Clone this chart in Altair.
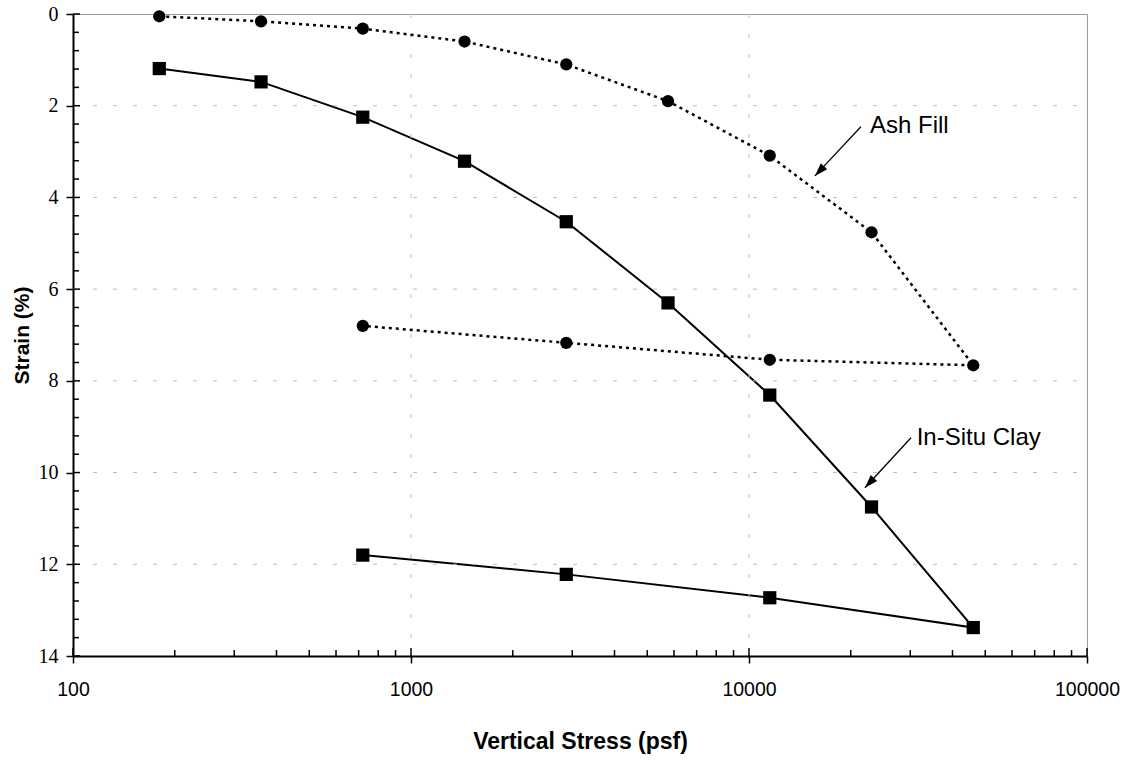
import altair as alt
import pandas as pd

# ---- data ----
stress_load = [180, 360, 720, 1440, 2880, 5760, 11520, 23040, 46080]
stress_unload = [11520, 2880, 720]
ash_load = [0.05, 0.16, 0.32, 0.60, 1.10, 1.90, 3.09, 4.76, 7.66]
ash_unload = [7.54, 7.17, 6.80]
clay_load = [1.19, 1.48, 2.25, 3.21, 4.53, 6.30, 8.31, 10.75, 13.38]
clay_unload = [12.73, 12.22, 11.80]

x_major = [100, 1000, 10000, 100000]
x_minor = [m * d for d in (100, 1000, 10000) for m in range(2, 10)]
y_major = [0, 2, 4, 6, 8, 10, 12, 14]
y_minor = [round(v * 0.4, 1) for v in range(1, 36) if (v * 0.4) % 2 > 0.01 and (v * 0.4) % 2 < 1.99]
grid_x = [1000, 10000]
grid_y = [2, 4, 6, 8, 10, 12]

labels = ["Ash Fill", "In-Situ Clay"]
label_stress = [22800, 31340]
label_strain = [2.45, 9.25]
arrow_from_stress = [21430, 30150]
arrow_from_strain = [2.46, 9.24]
arrow_to_stress = [15670, 22030]
arrow_to_strain = [3.53, 10.33]

W, H = 1014, 642

def series(name, load, unload):
    rows = []
    xs = stress_load + stress_unload
    ys = load + unload
    for i, (s, e) in enumerate(zip(xs, ys)):
        rows.append({"series": name, "order": i, "stress": s, "strain": e})
    return pd.DataFrame(rows)

ash = series("Ash Fill", ash_load, ash_unload)
clay = series("In-Situ Clay", clay_load, clay_unload)

xscale = alt.Scale(type="log", domain=[100, 100000], nice=False)
yscale = alt.Scale(domain=[0, 14], reverse=True, nice=False, zero=False)

xaxis = alt.Axis(
    values=x_major, format="d", title="Vertical Stress (psf)", grid=False,
    domainColor="black", domainWidth=2, tickColor="black", tickWidth=1.5, tickSize=7,
    labelFont="Liberation Sans", labelFontSize=19.5, labelColor="black", labelPadding=17,
    labelFlush=False, labelOverlap=False,
    titleFont="Liberation Sans", titleFontSize=23, titleFontWeight="bold", titleColor="black",
    titleX=W / 2, titleY=85, titleBaseline="middle", titleAlign="center",
)
yaxis = alt.Axis(
    values=y_major, title="Strain (%)", grid=False,
    domainColor="black", domainWidth=2, tickColor="black", tickWidth=1.5, tickSize=7,
    labelFont="Liberation Serif", labelFontSize=20, labelColor="black", labelPadding=8,
    labelOverlap=False, labelFlush=False,
    titleFont="Liberation Sans", titleFontSize=21, titleFontWeight="bold", titleColor="black",
    titleX=-51, titleY=H / 2, titleBaseline="middle", titleAlign="center", titleAngle=270,
)

def X(field="stress"):
    return alt.X(f"{field}:Q", scale=xscale, axis=xaxis)

def Y(field="strain"):
    return alt.Y(f"{field}:Q", scale=yscale, axis=yaxis)

gx = alt.Chart(pd.DataFrame({"stress": grid_x})).mark_rule(
    color="#bdbdbd", strokeWidth=1, strokeDash=[4, 16]
).encode(x=X(), y=alt.value(0), y2=alt.value(H))

gy = alt.Chart(pd.DataFrame({"strain": grid_y})).mark_rule(
    color="#bdbdbd", strokeWidth=1, strokeDash=[4, 16]
).encode(y=Y(), x=alt.value(0), x2=alt.value(W))

# inward tick marks
ty_minor = alt.Chart(pd.DataFrame({"strain": y_minor})).mark_rule(
    color="black", strokeWidth=1.5
).encode(y=Y(), x=alt.value(0), x2=alt.value(6))
ty_major = alt.Chart(pd.DataFrame({"strain": y_major})).mark_rule(
    color="black", strokeWidth=1.5
).encode(y=Y(), x=alt.value(0), x2=alt.value(7))
tx_minor = alt.Chart(pd.DataFrame({"stress": x_minor})).mark_rule(
    color="black", strokeWidth=1.5
).encode(x=X(), y=alt.value(H), y2=alt.value(H - 6))
tx_major = alt.Chart(pd.DataFrame({"stress": x_major})).mark_rule(
    color="black", strokeWidth=1.5
).encode(x=X(), y=alt.value(H), y2=alt.value(H - 8))

clay_line = alt.Chart(clay).mark_line(color="black", strokeWidth=2).encode(
    x=X(), y=Y(), order="order:Q"
)
clay_pts = alt.Chart(clay).mark_point(
    shape="square", filled=True, color="black", size=175, opacity=1
).encode(x=X(), y=Y())

ash_line = alt.Chart(ash).mark_line(
    color="black", strokeWidth=2.5, strokeDash=[3, 4]
).encode(x=X(), y=Y(), order="order:Q")
ash_pts = alt.Chart(ash).mark_point(
    shape="circle", filled=True, color="black", size=150, opacity=1
).encode(x=X(), y=Y())

ann = pd.DataFrame({
    "label": labels, "stress": label_stress, "strain": label_strain,
    "fx": arrow_from_stress, "fy": arrow_from_strain,
    "tx": arrow_to_stress, "ty": arrow_to_strain,
})
ann_text = alt.Chart(ann).mark_text(
    align="left", baseline="middle", font="Liberation Sans", fontSize=24, color="black"
).encode(x=X(), y=Y(), text="label:N")
ann_line = alt.Chart(ann).mark_rule(color="black", strokeWidth=1.3).encode(
    x=X("fx"), y=Y("fy"), x2="tx:Q", y2="ty:Q"
)
ann_head = alt.Chart(ann).mark_point(
    shape="M0,0 L0.33,1 L-0.33,1 Z", filled=True, color="black", size=700,
    opacity=1, angle=223
).encode(x=X("tx"), y=Y("ty"))

chart = alt.layer(
    clay_line, gx, gy, ash_line, clay_pts, ash_pts,
    ty_minor, ty_major, tx_minor, tx_major, ann_line, ann_head, ann_text
).properties(
    width=W, height=H,
    padding={"left": 73, "top": 14, "right": 46, "bottom": 104},
    autosize=alt.AutoSizeParams(type="none"),
    background="white",
).configure_view(stroke="#9a9a9a", strokeWidth=1)

chart.save("out.html", embed_options={"renderer": "svg", "actions": False})
